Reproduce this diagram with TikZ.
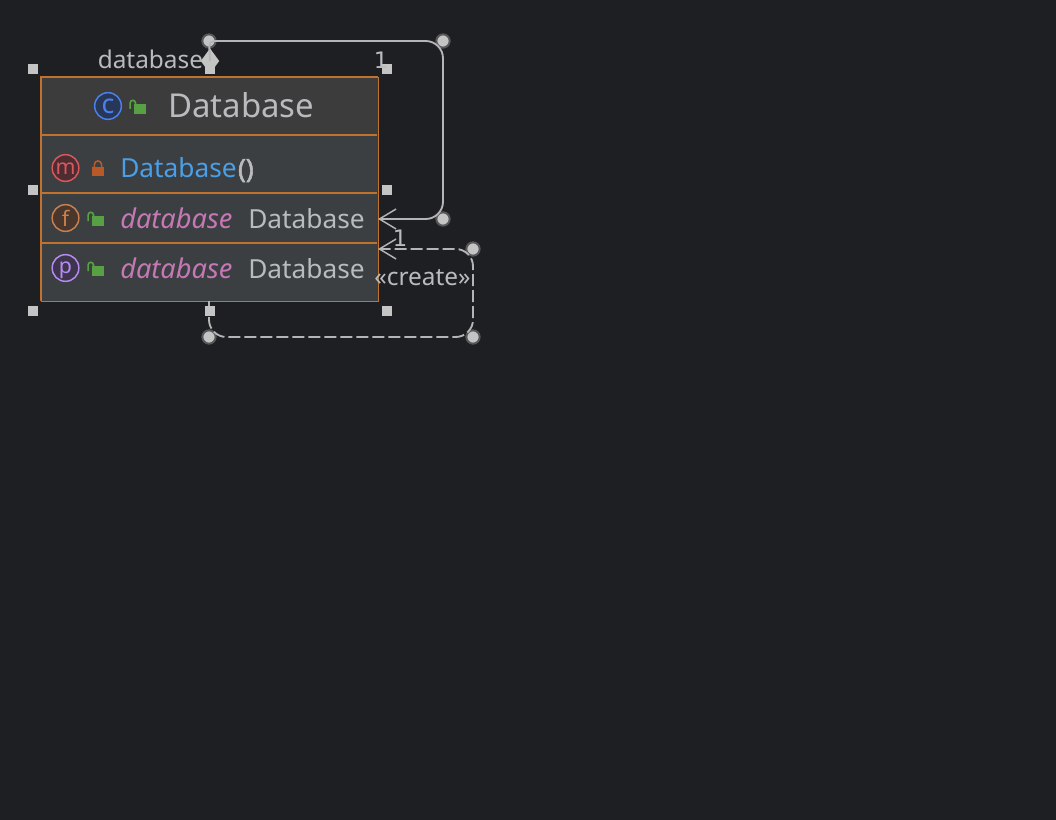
\documentclass[tikz,border=0pt]{standalone}
\usepackage{fontspec}
\setmainfont{Noto Sans}
\newfontfamily\numfont{DejaVu Sans}
\usetikzlibrary{arrows.meta, shapes.geometric}
\definecolor{bgdark}{HTML}{1E1F22}
\definecolor{headfill}{HTML}{3C3C3D}
\definecolor{rowfill}{HTML}{3B3F42}
\definecolor{edgeorange}{HTML}{C0722F}
\definecolor{linegray}{HTML}{B4B5B6}
\definecolor{handlegray}{HTML}{C4C4C4}
\definecolor{textgray}{HTML}{B9BBBE}
\definecolor{ctorblue}{HTML}{4A9FE8}
\definecolor{fieldpink}{HTML}{C678B4}
\definecolor{lockgreen}{HTML}{57A044}
\definecolor{lockorange}{HTML}{B85A28}
\definecolor{iconblue}{HTML}{4A80F0}
\definecolor{iconred}{HTML}{D9575D}
\definecolor{iconbrown}{HTML}{C9804F}
\definecolor{iconpurple}{HTML}{B78CF2}
\tikzset{
  handle/.style={fill=handlegray, draw=none, minimum size=7.5pt, inner sep=0pt},
  knob/.style={circle, fill=handlegray, draw=white!25!bgdark, line width=1.5pt, minimum size=10pt, inner sep=0pt},
  conn/.style={draw=linegray, line width=1.4pt, rounded corners=13pt},
  barb/.style={-{Straight Barb[length=12.5pt, width=15pt, line width=1.1pt]}},
  lbl/.style={text=textgray, font=\fontsize{18.3}{20}\selectfont, inner sep=0pt},
  rowtxt/.style={text=textgray, font=\fontsize{19.7}{22}\selectfont, inner sep=0pt, anchor=base west},
  nametxt/.style={rowtxt, text=fieldpink, font=\fontsize{20.4}{22}\selectfont\itshape},
  icon/.style={circle, line width=1.1pt, minimum size=20pt, inner sep=0pt, font=\fontsize{16}{18}\selectfont, text height=10.4pt, text depth=0pt},
  openlock/.pic={
    \fill[lockgreen] (-6,-2) rectangle (6,8);
    \draw[lockgreen, line width=1.2pt] (-4.5,-1) -- (-4.5,-3) arc (0:-180:2.7) -- (-9.9,3);
  },
  closedlock/.pic={
    \fill[lockorange] (-6,-1) rectangle (6,8);
    \draw[lockorange, line width=1.2pt] (-3.6,-1) -- (-3.6,-3.5) arc (180:360:3.6) -- (3.6,-1);
  }
}
\begin{document}
\begin{tikzpicture}[x=0.75pt, y=-0.75pt]
  \fill[bgdark] (0,0) rectangle (1056,820);
  \useasboundingbox (0,0) rectangle (1056,820);

  \fill[headfill] (41,77) rectangle (378,135);
  \fill[rowfill] (41,135) rectangle (378,301);
  \draw[edgeorange, line width=0.7pt] (41,77) rectangle (378,301);
  \draw[edgeorange, line width=1.1pt] (41,301) -- (41,77) -- (378,77);
  \draw[edgeorange, line width=1.1pt] (41,135) -- (377,135);
  \draw[edgeorange, line width=1.1pt] (41,193) -- (377,193);
  \draw[edgeorange, line width=1.1pt] (41,243) -- (377,243);

  \coordinate (fieldend) at (378,219);
  \coordinate (propend) at (378,249);
  \coordinate (bottomend) at (209,301);

  \node[knob] (b1) at (209,41) {};
  \node[knob] (b2) at (443,41) {};
  \node[knob] (b3) at (443,219) {};
  \node[knob] (d1) at (473,249) {};
  \node[knob] (d2) at (473,337) {};
  \node[knob] (d3) at (209,337) {};
  \node[diamond, fill=handlegray, minimum width=14pt, minimum height=19pt, inner sep=0pt] (owner) at (210,61) {};

  \draw[conn, barb] (owner.center) [rounded corners=4pt] -- (b1.center) [rounded corners=13pt] -- (b2.center) -- (b3.center) -- (fieldend);
  \draw[conn, barb, dash pattern=on 9pt off 3pt] (bottomend) -- (d3.center) -- (d2.center) -- (d1.center) -- (propend);

  \node[handle] (h1) at (33,69) {};
  \node[handle] (h2) at (210,69) {};
  \node[handle] (h3) at (387,69) {};
  \node[handle] (h4) at (33,190) {};
  \node[handle] (h5) at (387,190) {};
  \node[handle] (h6) at (33,311) {};
  \node[handle] (h7) at (210,311) {};
  \node[handle] (h8) at (387,311) {};

  \node[lbl, anchor=base west] (rolename) at (97.5,68.5) {database};
  \node[lbl, anchor=base, font=\fontsize{17}{20}\selectfont\numfont] (mult1) at (381,69) {1};
  \node[lbl, anchor=base, font=\fontsize{17}{20}\selectfont\numfont] (mult2) at (400,246) {1};
  \node[lbl, anchor=base] (stereo) at (422.5,285.5) {«create»};

  \node[icon, draw=iconblue, fill=iconblue!25!bgdark, text=iconblue, font=\fontsize{20}{22}\selectfont, text height=11.5pt] (iconc) at (108,106) {c};
  \node[icon, draw=iconred, fill=iconred!25!bgdark, text=iconred] (iconm) at (65.5,168) {m};
  \node[icon, draw=iconbrown, fill=iconbrown!25!bgdark, text=iconbrown, text height=13pt] (iconf) at (65.5,218) {f};
  \node[icon, draw=iconpurple, fill=iconpurple!20!bgdark, text=iconpurple, text height=9.5pt, text depth=2pt] (iconp) at (65.5,268) {p};

  \pic at (140,106) {openlock};
  \pic at (98,168) {closedlock};
  \pic at (98,218) {openlock};
  \pic at (98,268) {openlock};

  \node[text=textgray, font=\fontsize{24.7}{28}\selectfont, inner sep=0pt, anchor=base west] (title) at (168,118) {Database};
  \node[rowtxt, text=ctorblue] (ctor) at (120,178) {Database\textcolor{textgray}{\addfontfeature{FakeBold=2}\kern1pt()}};
  \node[nametxt] (fname) at (120,228) {database};
  \node[rowtxt] (ftype) at (248,228) {Database};
  \node[nametxt] (pname) at (120,278) {database};
  \node[rowtxt] (ptype) at (248,278) {Database};
\end{tikzpicture}
\end{document}
